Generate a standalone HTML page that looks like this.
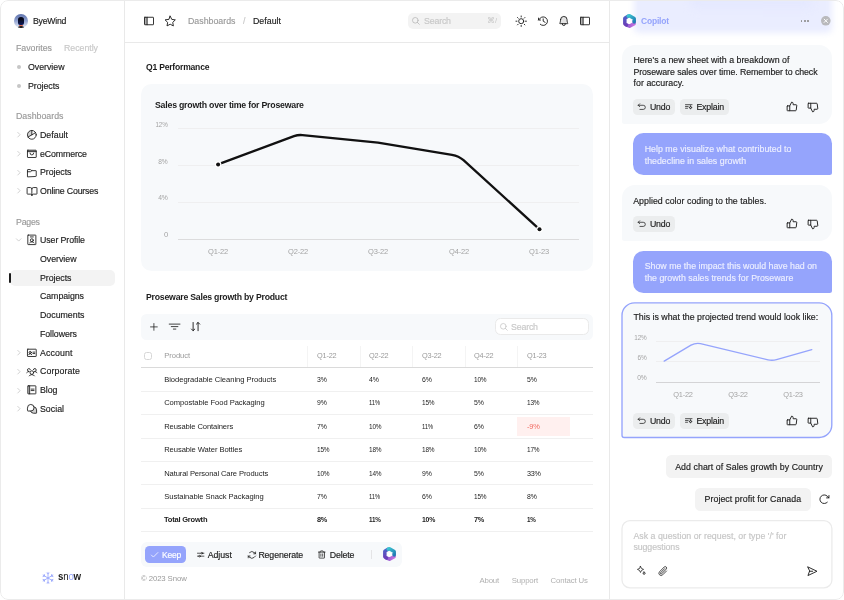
<!DOCTYPE html>
<html lang="en">
<head>
<meta charset="utf-8">
<title>ByeWind Dashboard - Copilot</title>
<style>
*{box-sizing:border-box;margin:0;padding:0}
html,body{width:844px;height:600px;overflow:hidden;background:#fff}
body{font-family:"Liberation Sans",Arial,sans-serif;font-size:8.8px;color:#1c1c1c;position:relative}
.frame{position:absolute;left:0;top:0;width:844px;height:600px;border-radius:8px;overflow:hidden;background:transparent;will-change:transform}
.abs{position:absolute}
.t{position:absolute;white-space:nowrap;line-height:12px;height:12px;margin-top:-6px}
.k{-webkit-text-stroke:.16px currentColor}
svg{position:absolute;overflow:visible}
.ic{fill:none;stroke-linecap:round;stroke-linejoin:round}
</style>
</head>
<body>
<div class="frame">
<!-- sidebar -->
<div class="abs" style="left:123.5px;top:0px;width:1.00px;height:600.00px;background:#e9e9e9"></div>
<div class="abs" style="left:14px;top:14px;width:14px;height:14px;border-radius:50%;background:linear-gradient(180deg,#5f73ad 0%,#8b9dcd 45%,#e4eaf7 95%);overflow:hidden">
<div class="abs" style="left:4.3px;top:3.2px;width:5.6px;height:8.2px;border-radius:2.8px 2.8px 2px 2px;background:linear-gradient(180deg,#070a1c 30%,#0c1a5e 100%)"></div>
<div class="abs" style="left:3px;top:11.8px;width:8.2px;height:4px;border-radius:4px 4px 0 0;background:#120d0d"></div>
<div class="abs" style="left:5.4px;top:10.9px;width:3.4px;height:1.3px;border-radius:.6px;background:#e06a4c"></div></div>
<div class="t k" style="letter-spacing:-0.220px;top:21px;font-size:8.8px;color:#1c1c1c;left:33px;transform:scaleX(0.986);transform-origin:0 50%;">ByeWind</div>
<div class="t k" style="letter-spacing:-0.023px;top:48px;font-size:8.8px;color:#9a9a9a;left:16px;transform:scaleX(1.000);transform-origin:0 50%;">Favorites</div>
<div class="t k" style="letter-spacing:-0.033px;top:48px;font-size:8.8px;color:#c8c8c8;left:64px;transform:scaleX(1.000);transform-origin:0 50%;">Recently</div>
<div class="abs" style="left:17px;top:65px;width:4.00px;height:4.00px;border-radius:50%;background:#c6c6c6"></div>
<div class="t k" style="letter-spacing:-0.025px;top:67px;font-size:8.8px;color:#1c1c1c;left:28px;transform:scaleX(1.000);transform-origin:0 50%;">Overview</div>
<div class="abs" style="left:17px;top:83.6px;width:4.00px;height:4.00px;border-radius:50%;background:#c6c6c6"></div>
<div class="t k" style="letter-spacing:-0.040px;top:85.6px;font-size:8.8px;color:#1c1c1c;left:28px;transform:scaleX(1.000);transform-origin:0 50%;">Projects</div>
<div class="t k" style="letter-spacing:0.007px;top:116px;font-size:8.8px;color:#9a9a9a;left:16px;transform:scaleX(1.000);transform-origin:0 50%;">Dashboards</div>
<svg class="ic" viewBox="0 0 256 256" style="left:14.80px;top:131.30px;width:7.4px;height:7.4px;stroke:#bcbcbc;stroke-width:24;"><polyline points="96 48 176 128 96 208"/></svg>
<svg class="ic" viewBox="0 0 256 256" style="left:25.75px;top:129.15px;width:11.7px;height:11.7px;stroke:#1c1c1c;stroke-width:19;"><path d="M128,128V32A96,96,0,0,0,44.9,176Z" fill="#1c1c1c" fill-opacity=".2" stroke="none"/><circle cx="128" cy="128" r="96"/><line x1="128" y1="128" x2="128" y2="32"/><line x1="211.1" y1="80" x2="44.9" y2="176"/></svg>
<div class="t k" style="letter-spacing:0.021px;top:135px;font-size:8.8px;color:#1c1c1c;left:40px;transform:scaleX(1.000);transform-origin:0 50%;">Default</div>
<svg class="ic" viewBox="0 0 256 256" style="left:14.80px;top:150.00px;width:7.4px;height:7.4px;stroke:#bcbcbc;stroke-width:24;"><polyline points="96 48 176 128 96 208"/></svg>
<svg class="ic" viewBox="0 0 256 256" style="left:25.75px;top:147.85px;width:11.7px;height:11.7px;stroke:#1c1c1c;stroke-width:19;"><rect x="32" y="48" width="192" height="32" fill="#1c1c1c" fill-opacity=".3" stroke="none"/><rect x="32" y="48" width="192" height="160" rx="8"/><line x1="32" y1="80" x2="224" y2="80"/><path d="M168,112a40,40,0,0,1-80,0"/></svg>
<div class="t k" style="letter-spacing:-0.113px;top:153.7px;font-size:8.8px;color:#1c1c1c;left:40px;transform:scaleX(1.000);transform-origin:0 50%;">eCommerce</div>
<svg class="ic" viewBox="0 0 256 256" style="left:14.80px;top:168.70px;width:7.4px;height:7.4px;stroke:#bcbcbc;stroke-width:24;"><polyline points="96 48 176 128 96 208"/></svg>
<svg class="ic" viewBox="0 0 256 256" style="left:25.75px;top:166.55px;width:11.7px;height:11.7px;stroke:#1c1c1c;stroke-width:19;"><path d="M32,208V64a8,8,0,0,1,8-8H93.3a8,8,0,0,1,4.8,1.6L128,80h88a8,8,0,0,1,8,8V200a8,8,0,0,1-8,8Z"/><path d="M32,104H93.3a8,8,0,0,0,4.8-1.6L128,80"/></svg>
<div class="t k" style="letter-spacing:-0.040px;top:172.4px;font-size:8.8px;color:#1c1c1c;left:40px;transform:scaleX(1.000);transform-origin:0 50%;">Projects</div>
<svg class="ic" viewBox="0 0 256 256" style="left:14.80px;top:187.40px;width:7.4px;height:7.4px;stroke:#bcbcbc;stroke-width:24;"><polyline points="96 48 176 128 96 208"/></svg>
<svg class="ic" viewBox="0 0 256 256" style="left:25.75px;top:185.25px;width:11.7px;height:11.7px;stroke:#1c1c1c;stroke-width:19;"><path d="M128,88a32,32,0,0,1,32-32h72a8,8,0,0,1,8,8V192a8,8,0,0,1-8,8H160a32,32,0,0,0-32,32"/><path d="M24,192a8,8,0,0,0,8,8H96a32,32,0,0,1,32,32V88A32,32,0,0,0,96,56H32a8,8,0,0,0-8,8Z"/></svg>
<div class="t k" style="letter-spacing:-0.165px;top:191.1px;font-size:8.8px;color:#1c1c1c;left:40px;transform:scaleX(1.000);transform-origin:0 50%;">Online Courses</div>
<div class="t k" style="letter-spacing:-0.220px;top:221.5px;font-size:8.8px;color:#9a9a9a;left:16px;transform:scaleX(0.997);transform-origin:0 50%;">Pages</div>
<svg class="ic" viewBox="0 0 256 256" style="left:14.80px;top:236.30px;width:7.4px;height:7.4px;stroke:#bcbcbc;stroke-width:24;"><polyline points="208 96 128 176 48 96"/></svg>
<svg class="ic" viewBox="0 0 256 256" style="left:25.75px;top:234.15px;width:11.7px;height:11.7px;stroke:#1c1c1c;stroke-width:19;"><rect x="40" y="24" width="176" height="208" rx="8"/><circle cx="128" cy="136" r="32"/><path d="M80,192a60,60,0,0,1,96,0"/><line x1="96" y1="64" x2="160" y2="64"/></svg>
<div class="t k" style="letter-spacing:-0.087px;top:240px;font-size:8.8px;color:#1c1c1c;left:40px;transform:scaleX(1.000);transform-origin:0 50%;">User Profile</div>
<div class="abs" style="left:10.2px;top:269.7px;width:104.80px;height:16.30px;border-radius:5px;background:#f3f3f3"></div>
<div class="abs" style="left:9.2px;top:272.8px;width:2.30px;height:9.80px;border-radius:1.2px;background:#1c1c1c"></div>
<div class="t k" style="letter-spacing:-0.025px;top:258.8px;font-size:8.8px;color:#1c1c1c;left:40px;transform:scaleX(1.000);transform-origin:0 50%;">Overview</div>
<div class="t k" style="letter-spacing:-0.040px;top:277.8px;font-size:8.8px;color:#1c1c1c;left:40px;transform:scaleX(1.000);transform-origin:0 50%;">Projects</div>
<div class="t k" style="letter-spacing:-0.062px;top:296.4px;font-size:8.8px;color:#1c1c1c;left:40px;transform:scaleX(1.000);transform-origin:0 50%;">Campaigns</div>
<div class="t k" style="letter-spacing:0.000px;top:315.2px;font-size:8.8px;color:#1c1c1c;left:40px;transform:scaleX(1.000);transform-origin:0 50%;">Documents</div>
<div class="t k" style="letter-spacing:-0.080px;top:334px;font-size:8.8px;color:#1c1c1c;left:40px;transform:scaleX(1.000);transform-origin:0 50%;">Followers</div>
<svg class="ic" viewBox="0 0 256 256" style="left:14.80px;top:349.10px;width:7.4px;height:7.4px;stroke:#bcbcbc;stroke-width:24;"><polyline points="96 48 176 128 96 208"/></svg>
<svg class="ic" viewBox="0 0 256 256" style="left:25.75px;top:346.95px;width:11.7px;height:11.7px;stroke:#1c1c1c;stroke-width:19;"><rect x="32" y="48" width="192" height="160" rx="8"/><line x1="152" y1="112" x2="192" y2="112"/><line x1="152" y1="144" x2="192" y2="144"/><circle cx="92" cy="120" r="24"/><path d="M61,168a32,32,0,0,1,62,0"/></svg>
<div class="t k" style="letter-spacing:0.117px;top:352.8px;font-size:8.8px;color:#1c1c1c;left:40px;transform:scaleX(1.000);transform-origin:0 50%;">Account</div>
<svg class="ic" viewBox="0 0 256 256" style="left:14.80px;top:367.70px;width:7.4px;height:7.4px;stroke:#bcbcbc;stroke-width:24;"><polyline points="96 48 176 128 96 208"/></svg>
<svg class="ic" viewBox="0 0 256 256" style="left:25.75px;top:365.55px;width:11.7px;height:11.7px;stroke:#1c1c1c;stroke-width:19;"><circle cx="128" cy="144" r="40"/><path d="M72,216a65,65,0,0,1,112,0"/><path d="M192,120a59.9,59.9,0,0,1,48,24"/><path d="M16,144a59.9,59.9,0,0,1,48-24"/><path d="M161,80a32,32,0,1,1,31,40"/><path d="M64,120A32,32,0,1,1,95,80"/></svg>
<div class="t k" style="letter-spacing:0.109px;top:371.4px;font-size:8.8px;color:#1c1c1c;left:40px;transform:scaleX(1.000);transform-origin:0 50%;">Corporate</div>
<svg class="ic" viewBox="0 0 256 256" style="left:14.80px;top:386.50px;width:7.4px;height:7.4px;stroke:#bcbcbc;stroke-width:24;"><polyline points="96 48 176 128 96 208"/></svg>
<svg class="ic" viewBox="0 0 256 256" style="left:25.75px;top:384.35px;width:11.7px;height:11.7px;stroke:#1c1c1c;stroke-width:19;"><rect x="40" y="40" width="40" height="176" fill="#1c1c1c" fill-opacity=".25" stroke="none"/><rect x="40" y="40" width="176" height="176" rx="8"/><line x1="80" y1="40" x2="80" y2="216"/><line x1="112" y1="112" x2="176" y2="112"/><line x1="112" y1="144" x2="176" y2="144"/></svg>
<div class="t k" style="letter-spacing:-0.036px;top:390.2px;font-size:8.8px;color:#1c1c1c;left:40px;transform:scaleX(1.000);transform-origin:0 50%;">Blog</div>
<svg class="ic" viewBox="0 0 256 256" style="left:14.80px;top:405.30px;width:7.4px;height:7.4px;stroke:#bcbcbc;stroke-width:24;"><polyline points="96 48 176 128 96 208"/></svg>
<svg class="ic" viewBox="0 0 256 256" style="left:25.75px;top:403.15px;width:11.7px;height:11.7px;stroke:#1c1c1c;stroke-width:19;"><path d="M98,176a72,72,0,0,0,68,48h58a8,8,0,0,0,8-8V152a72,72,0,0,0-58-70.6A72,72,0,0,1,104,176Z" fill="#1c1c1c" fill-opacity=".2" stroke="none"/><path d="M32,104a72,72,0,1,1,72,72H40a8,8,0,0,1-8-8Z"/><path d="M98,176a72,72,0,0,0,68,48h58a8,8,0,0,0,8-8V152a72,72,0,0,0-58-70.6"/></svg>
<div class="t k" style="letter-spacing:0.006px;top:409px;font-size:8.8px;color:#1c1c1c;left:40px;transform:scaleX(1.000);transform-origin:0 50%;">Social</div>
<svg viewBox="-10 -10 20 20" style="left:42.4px;top:571.6px;width:12px;height:12px;stroke:#95a4fc;stroke-width:1.3;fill:none;stroke-linecap:round;stroke-linejoin:round"><g transform="rotate(0)"><line x1="0" y1="-9.4" x2="0" y2="9.4"/><polyline points="-2,-8.4 0,-6.4 2,-8.4"/><polyline points="-2,8.4 0,6.4 2,8.4"/></g><g transform="rotate(60)"><line x1="0" y1="-9.4" x2="0" y2="9.4"/><polyline points="-2,-8.4 0,-6.4 2,-8.4"/><polyline points="-2,8.4 0,6.4 2,8.4"/></g><g transform="rotate(120)"><line x1="0" y1="-9.4" x2="0" y2="9.4"/><polyline points="-2,-8.4 0,-6.4 2,-8.4"/><polyline points="-2,8.4 0,6.4 2,8.4"/></g></svg>
<div class="t" style="letter-spacing:-0.220px;top:577.3px;font-size:10.2px;color:#1c1c1c;left:57.6px;font-weight:bold;transform:scaleX(0.955);transform-origin:0 50%;">s<span style="font-weight:normal">n<span style="color:#95a4fc">o</span></span>w</div>
<!-- top bar -->
<div class="abs" style="left:124.5px;top:41.5px;width:484.90px;height:1.00px;background:#e9e9e9"></div>
<svg class="ic" viewBox="0 0 256 256" style="left:143.00px;top:15.00px;width:12px;height:12px;stroke:#1c1c1c;stroke-width:19;"><rect x="32" y="48" width="56" height="160" fill="#1c1c1c" fill-opacity=".35" stroke="none"/><rect x="32" y="48" width="192" height="160" rx="8"/><line x1="88" y1="48" x2="88" y2="208"/></svg>
<svg class="ic" viewBox="0 0 256 256" style="left:163.80px;top:14.80px;width:12.4px;height:12.4px;stroke:#1c1c1c;stroke-width:19;"><path d="M128,24l32.6,66.5,73.4,10.2-53.3,51.6,12.9,72.9L128,190.5,62.4,225.2l12.9-72.9L22,100.7l73.4-10.2Z"/></svg>
<div class="t k" style="letter-spacing:0.007px;top:21px;font-size:8.8px;color:#9a9a9a;left:188px;transform:scaleX(1.000);transform-origin:0 50%;">Dashboards</div>
<div class="t k" style="top:21px;font-size:8.8px;color:#c8c8c8;left:243px;">/</div>
<div class="t k" style="letter-spacing:0.021px;top:21px;font-size:8.8px;color:#1c1c1c;left:253px;transform:scaleX(1.000);transform-origin:0 50%;">Default</div>
<div class="abs" style="left:408.2px;top:12.8px;width:93.00px;height:16.00px;border-radius:5px;background:#f3f3f3"></div>
<svg class="ic" viewBox="0 0 256 256" style="left:411.25px;top:16.45px;width:9.5px;height:9.5px;stroke:#b4b4b4;stroke-width:20;"><circle cx="116" cy="116" r="76"/><line x1="170" y1="170" x2="224" y2="224"/></svg>
<div class="t k" style="letter-spacing:-0.175px;top:21.2px;font-size:8.8px;color:#c8c8c8;left:424px;transform:scaleX(1.000);transform-origin:0 50%;">Search</div>
<div class="t" style="top:21.2px;font-size:7.5px;color:#c8c8c8;left:487px;">⌘/</div>
<svg class="ic" viewBox="0 0 256 256" style="left:515.30px;top:14.80px;width:12.4px;height:12.4px;stroke:#1c1c1c;stroke-width:19;"><circle cx="128" cy="128" r="52"/><line x1="128" y1="40" x2="128" y2="20"/><line x1="128" y1="236" x2="128" y2="216"/><line x1="40" y1="128" x2="20" y2="128"/><line x1="236" y1="128" x2="216" y2="128"/><line x1="65.8" y1="65.8" x2="51.6" y2="51.6"/><line x1="190.2" y1="65.8" x2="204.4" y2="51.6"/><line x1="65.8" y1="190.2" x2="51.6" y2="204.4"/><line x1="190.2" y1="190.2" x2="204.4" y2="204.4"/></svg>
<svg class="ic" viewBox="0 0 256 256" style="left:536.60px;top:14.80px;width:12.4px;height:12.4px;stroke:#1c1c1c;stroke-width:19;"><polyline points="128 80 128 128 168 152"/><polyline points="72 104 32 104 32 64"/><path d="M67.6,192A88,88,0,1,0,65.8,65.8L32,104"/></svg>
<svg class="ic" viewBox="0 0 256 256" style="left:558.00px;top:15.40px;width:11.6px;height:11.6px;stroke:#1c1c1c;stroke-width:20;"><path d="M56,104a72,72,0,0,1,144,0c0,35.8,8.3,64.6,14.9,76A8,8,0,0,1,208,192H48a8,8,0,0,1-6.9-12C47.7,168.6,56,139.8,56,104Z" fill="#1c1c1c" fill-opacity=".12"/><path d="M96,192v8a32,32,0,0,0,64,0v-8"/></svg>
<svg class="ic" viewBox="0 0 256 256" style="left:579.20px;top:15.00px;width:12px;height:12px;stroke:#1c1c1c;stroke-width:19;"><rect x="32" y="48" width="56" height="160" fill="#1c1c1c" fill-opacity=".35" stroke="none"/><rect x="32" y="48" width="192" height="160" rx="8"/><line x1="88" y1="48" x2="88" y2="208"/></svg>
<!-- main -->
<div class="t" style="letter-spacing:-0.220px;top:66.5px;font-size:8.8px;color:#1c1c1c;left:146px;font-weight:bold;transform:scaleX(0.975);transform-origin:0 50%;">Q1 Performance</div>
<div class="abs" style="left:141px;top:84.3px;width:452.30px;height:186.70px;border-radius:10.5px;background:#f7f9fb"></div>
<div class="t" style="letter-spacing:-0.220px;top:104.5px;font-size:8.8px;color:#1c1c1c;left:155px;font-weight:bold;transform:scaleX(0.995);transform-origin:0 50%;">Sales growth over time for Proseware</div>
<div class="t" style="letter-spacing:-0.220px;top:124.6px;font-size:7.6px;color:#a4a4a4;right:676px;transform:scaleX(0.826);transform-origin:100% 50%;">12%</div>
<div class="t" style="letter-spacing:-0.220px;top:161.7px;font-size:7.6px;color:#a4a4a4;right:676px;transform:scaleX(0.873);transform-origin:100% 50%;">8%</div>
<div class="t" style="letter-spacing:-0.220px;top:198.4px;font-size:7.6px;color:#a4a4a4;right:676px;transform:scaleX(0.892);transform-origin:100% 50%;">4%</div>
<div class="t" style="letter-spacing:0.000px;top:235.1px;font-size:7.6px;color:#a4a4a4;right:676px;transform:scaleX(1.015);transform-origin:100% 50%;">0</div>
<div class="abs" style="left:177.5px;top:128px;width:401.50px;height:1.00px;background:#efeff0"></div>
<div class="abs" style="left:177.5px;top:165px;width:401.50px;height:1.00px;background:#efeff0"></div>
<div class="abs" style="left:177.5px;top:202px;width:401.50px;height:1.00px;background:#efeff0"></div>
<div class="abs" style="left:177.5px;top:239.3px;width:401.50px;height:1.00px;background:#dcdcdd"></div>
<div class="t" style="letter-spacing:-0.220px;top:252.3px;font-size:7.6px;color:#a4a4a4;left:217.5px;transform:translateX(-50%) scaleX(0.989);">Q1-22</div>
<div class="t" style="letter-spacing:-0.220px;top:252.3px;font-size:7.6px;color:#a4a4a4;left:298px;transform:translateX(-50%) scaleX(0.989);">Q2-22</div>
<div class="t" style="letter-spacing:-0.220px;top:252.3px;font-size:7.6px;color:#a4a4a4;left:378px;transform:translateX(-50%) scaleX(0.989);">Q3-22</div>
<div class="t" style="letter-spacing:-0.220px;top:252.3px;font-size:7.6px;color:#a4a4a4;left:458.5px;transform:translateX(-50%) scaleX(0.989);">Q4-22</div>
<div class="t" style="letter-spacing:-0.220px;top:252.3px;font-size:7.6px;color:#a4a4a4;left:539px;transform:translateX(-50%) scaleX(0.989);">Q1-23</div>
<svg viewBox="0 0 844 600" style="left:0;top:0;width:844px;height:600px;pointer-events:none">
<path d="M218 164.4 L294 136.2 Q298.3 134.6 302.5 135.1 L378 142.6 L452 154.8 Q458.8 155.9 463.5 160.2 L539.5 229.3" fill="none" stroke="#111" stroke-width="2.35" stroke-linejoin="round" stroke-linecap="round"/>
<circle cx="218.1" cy="164.5" r="3.3" fill="#fff"/><circle cx="218.1" cy="164.5" r="2" fill="#111"/>
<circle cx="539.5" cy="229.3" r="3.3" fill="#fff"/><circle cx="539.5" cy="229.3" r="2" fill="#111"/>
</svg>
<div class="t" style="letter-spacing:-0.220px;top:296.8px;font-size:8.8px;color:#1c1c1c;left:146px;font-weight:bold;transform:scaleX(0.989);transform-origin:0 50%;">Proseware Sales growth by Product</div>
<div class="abs" style="left:141px;top:314px;width:452.30px;height:26.00px;border-radius:5.5px;background:#f7f9fb"></div>
<svg class="ic" viewBox="0 0 256 256" style="left:148.50px;top:322.10px;width:9.8px;height:9.8px;stroke:#1c1c1c;stroke-width:20;"><line x1="40" y1="128" x2="216" y2="128"/><line x1="128" y1="40" x2="128" y2="216"/></svg>
<svg class="ic" viewBox="0 0 256 256" style="left:167.80px;top:320.40px;width:13.2px;height:13.2px;stroke:#1c1c1c;stroke-width:16;"><line x1="64" y1="128" x2="192" y2="128"/><line x1="24" y1="80" x2="232" y2="80"/><line x1="104" y1="176" x2="152" y2="176"/></svg>
<svg class="ic" viewBox="0 0 256 256" style="left:189.10px;top:320.40px;width:13.2px;height:13.2px;stroke:#1c1c1c;stroke-width:18;"><polyline points="112 176 80 208 48 176"/><line x1="80" y1="48" x2="80" y2="208"/><polyline points="144 80 176 48 208 80"/><line x1="176" y1="208" x2="176" y2="48"/></svg>
<div class="abs" style="left:494.6px;top:318.4px;width:94.20px;height:16.90px;border-radius:5.5px;background:#fff;border:1px solid #eaeaea"></div>
<svg class="ic" viewBox="0 0 256 256" style="left:498.75px;top:322.25px;width:9.5px;height:9.5px;stroke:#c4c4c4;stroke-width:20;"><circle cx="116" cy="116" r="76"/><line x1="170" y1="170" x2="224" y2="224"/></svg>
<div class="t k" style="letter-spacing:-0.175px;top:327px;font-size:8.8px;color:#c8c8c8;left:511px;transform:scaleX(1.000);transform-origin:0 50%;">Search</div>
<div class="abs" style="left:143.7px;top:352.2px;width:8.00px;height:8.00px;border-radius:2.5px;border:1px solid #d6d6d6;background:#fff"></div>
<div class="t" style="letter-spacing:-0.029px;top:356.2px;font-size:7.6px;color:#9a9a9a;left:164.2px;transform:scaleX(1.000);transform-origin:0 50%;">Product</div>
<div class="t" style="letter-spacing:-0.220px;top:356.2px;font-size:7.6px;color:#9a9a9a;left:316.6px;transform:scaleX(0.969);transform-origin:0 50%;">Q1-22</div>
<div class="t" style="letter-spacing:-0.220px;top:356.2px;font-size:7.6px;color:#9a9a9a;left:369px;transform:scaleX(0.969);transform-origin:0 50%;">Q2-22</div>
<div class="t" style="letter-spacing:-0.220px;top:356.2px;font-size:7.6px;color:#9a9a9a;left:421.6px;transform:scaleX(0.969);transform-origin:0 50%;">Q3-22</div>
<div class="t" style="letter-spacing:-0.220px;top:356.2px;font-size:7.6px;color:#9a9a9a;left:474px;transform:scaleX(0.969);transform-origin:0 50%;">Q4-22</div>
<div class="t" style="letter-spacing:-0.220px;top:356.2px;font-size:7.6px;color:#9a9a9a;left:526.5px;transform:scaleX(0.969);transform-origin:0 50%;">Q1-23</div>
<div class="abs" style="left:307.3px;top:345.5px;width:1.00px;height:21.50px;background:#f4f4f4"></div>
<div class="abs" style="left:359.7px;top:345.5px;width:1.00px;height:21.50px;background:#f4f4f4"></div>
<div class="abs" style="left:412.2px;top:345.5px;width:1.00px;height:21.50px;background:#f4f4f4"></div>
<div class="abs" style="left:464.6px;top:345.5px;width:1.00px;height:21.50px;background:#f4f4f4"></div>
<div class="abs" style="left:517px;top:345.5px;width:1.00px;height:21.50px;background:#f4f4f4"></div>
<div class="abs" style="left:141px;top:367px;width:452.00px;height:1.00px;background:#dadada"></div>
<div class="t" style="letter-spacing:-0.038px;top:379.7px;font-size:7.6px;color:#1c1c1c;left:164.2px;transform:scaleX(1.000);transform-origin:0 50%;">Biodegradable Cleaning Products</div>
<div class="t" style="letter-spacing:-0.220px;top:379.7px;font-size:7.6px;color:#1c1c1c;left:316.6px;transform:scaleX(0.910);transform-origin:0 50%;">3%</div>
<div class="t" style="letter-spacing:-0.220px;top:379.7px;font-size:7.6px;color:#1c1c1c;left:369px;transform:scaleX(0.910);transform-origin:0 50%;">4%</div>
<div class="t" style="letter-spacing:-0.220px;top:379.7px;font-size:7.6px;color:#1c1c1c;left:421.6px;transform:scaleX(0.910);transform-origin:0 50%;">6%</div>
<div class="t" style="letter-spacing:-0.220px;top:379.7px;font-size:7.6px;color:#1c1c1c;left:474px;transform:scaleX(0.853);transform-origin:0 50%;">10%</div>
<div class="t" style="letter-spacing:-0.220px;top:379.7px;font-size:7.6px;color:#1c1c1c;left:526.5px;transform:scaleX(0.910);transform-origin:0 50%;">5%</div>
<div class="abs" style="left:141px;top:390.59999999999997px;width:452.00px;height:1.00px;background:#f0f0f0"></div>
<div class="t" style="letter-spacing:-0.049px;top:403.15999999999997px;font-size:7.6px;color:#1c1c1c;left:164.2px;transform:scaleX(1.000);transform-origin:0 50%;">Compostable Food Packaging</div>
<div class="t" style="letter-spacing:-0.220px;top:403.15999999999997px;font-size:7.6px;color:#1c1c1c;left:316.6px;transform:scaleX(0.910);transform-origin:0 50%;">9%</div>
<div class="t" style="letter-spacing:-0.220px;top:403.15999999999997px;font-size:7.6px;color:#1c1c1c;left:369px;transform:scaleX(0.789);transform-origin:0 50%;">11%</div>
<div class="t" style="letter-spacing:-0.220px;top:403.15999999999997px;font-size:7.6px;color:#1c1c1c;left:421.6px;transform:scaleX(0.853);transform-origin:0 50%;">15%</div>
<div class="t" style="letter-spacing:-0.220px;top:403.15999999999997px;font-size:7.6px;color:#1c1c1c;left:474px;transform:scaleX(0.910);transform-origin:0 50%;">5%</div>
<div class="t" style="letter-spacing:-0.220px;top:403.15999999999997px;font-size:7.6px;color:#1c1c1c;left:526.5px;transform:scaleX(0.853);transform-origin:0 50%;">13%</div>
<div class="abs" style="left:141px;top:414.05999999999995px;width:452.00px;height:1.00px;background:#f0f0f0"></div>
<div class="abs" style="left:517.3px;top:417.2px;width:52.30px;height:19.00px;background:#fff0ef"></div>
<div class="t" style="letter-spacing:-0.107px;top:426.62px;font-size:7.6px;color:#1c1c1c;left:164.2px;transform:scaleX(1.000);transform-origin:0 50%;">Reusable Containers</div>
<div class="t" style="letter-spacing:-0.220px;top:426.62px;font-size:7.6px;color:#1c1c1c;left:316.6px;transform:scaleX(0.910);transform-origin:0 50%;">7%</div>
<div class="t" style="letter-spacing:-0.220px;top:426.62px;font-size:7.6px;color:#1c1c1c;left:369px;transform:scaleX(0.853);transform-origin:0 50%;">10%</div>
<div class="t" style="letter-spacing:-0.220px;top:426.62px;font-size:7.6px;color:#1c1c1c;left:421.6px;transform:scaleX(0.789);transform-origin:0 50%;">11%</div>
<div class="t" style="letter-spacing:-0.220px;top:426.62px;font-size:7.6px;color:#1c1c1c;left:474px;transform:scaleX(0.910);transform-origin:0 50%;">6%</div>
<div class="t" style="letter-spacing:-0.220px;top:426.62px;font-size:7.6px;color:#f26a62;left:526.5px;transform:scaleX(0.979);transform-origin:0 50%;">-9%</div>
<div class="abs" style="left:141px;top:437.52px;width:452.00px;height:1.00px;background:#f0f0f0"></div>
<div class="t" style="letter-spacing:-0.071px;top:450.08px;font-size:7.6px;color:#1c1c1c;left:164.2px;transform:scaleX(1.000);transform-origin:0 50%;">Reusable Water Bottles</div>
<div class="t" style="letter-spacing:-0.220px;top:450.08px;font-size:7.6px;color:#1c1c1c;left:316.6px;transform:scaleX(0.853);transform-origin:0 50%;">15%</div>
<div class="t" style="letter-spacing:-0.220px;top:450.08px;font-size:7.6px;color:#1c1c1c;left:369px;transform:scaleX(0.853);transform-origin:0 50%;">18%</div>
<div class="t" style="letter-spacing:-0.220px;top:450.08px;font-size:7.6px;color:#1c1c1c;left:421.6px;transform:scaleX(0.853);transform-origin:0 50%;">18%</div>
<div class="t" style="letter-spacing:-0.220px;top:450.08px;font-size:7.6px;color:#1c1c1c;left:474px;transform:scaleX(0.853);transform-origin:0 50%;">10%</div>
<div class="t" style="letter-spacing:-0.220px;top:450.08px;font-size:7.6px;color:#1c1c1c;left:526.5px;transform:scaleX(0.853);transform-origin:0 50%;">17%</div>
<div class="abs" style="left:141px;top:460.97999999999996px;width:452.00px;height:1.00px;background:#f0f0f0"></div>
<div class="t" style="letter-spacing:-0.111px;top:473.53999999999996px;font-size:7.6px;color:#1c1c1c;left:164.2px;transform:scaleX(1.000);transform-origin:0 50%;">Natural Personal Care Products</div>
<div class="t" style="letter-spacing:-0.220px;top:473.53999999999996px;font-size:7.6px;color:#1c1c1c;left:316.6px;transform:scaleX(0.853);transform-origin:0 50%;">10%</div>
<div class="t" style="letter-spacing:-0.220px;top:473.53999999999996px;font-size:7.6px;color:#1c1c1c;left:369px;transform:scaleX(0.853);transform-origin:0 50%;">14%</div>
<div class="t" style="letter-spacing:-0.220px;top:473.53999999999996px;font-size:7.6px;color:#1c1c1c;left:421.6px;transform:scaleX(0.910);transform-origin:0 50%;">9%</div>
<div class="t" style="letter-spacing:-0.220px;top:473.53999999999996px;font-size:7.6px;color:#1c1c1c;left:474px;transform:scaleX(0.910);transform-origin:0 50%;">5%</div>
<div class="t" style="letter-spacing:-0.220px;top:473.53999999999996px;font-size:7.6px;color:#1c1c1c;left:526.5px;transform:scaleX(0.948);transform-origin:0 50%;">33%</div>
<div class="abs" style="left:141px;top:484.43999999999994px;width:452.00px;height:1.00px;background:#f0f0f0"></div>
<div class="t" style="letter-spacing:-0.038px;top:497.0px;font-size:7.6px;color:#1c1c1c;left:164.2px;transform:scaleX(1.000);transform-origin:0 50%;">Sustainable Snack Packaging</div>
<div class="t" style="letter-spacing:-0.220px;top:497.0px;font-size:7.6px;color:#1c1c1c;left:316.6px;transform:scaleX(0.910);transform-origin:0 50%;">7%</div>
<div class="t" style="letter-spacing:-0.220px;top:497.0px;font-size:7.6px;color:#1c1c1c;left:369px;transform:scaleX(0.789);transform-origin:0 50%;">11%</div>
<div class="t" style="letter-spacing:-0.220px;top:497.0px;font-size:7.6px;color:#1c1c1c;left:421.6px;transform:scaleX(0.910);transform-origin:0 50%;">6%</div>
<div class="t" style="letter-spacing:-0.220px;top:497.0px;font-size:7.6px;color:#1c1c1c;left:474px;transform:scaleX(0.853);transform-origin:0 50%;">15%</div>
<div class="t" style="letter-spacing:-0.220px;top:497.0px;font-size:7.6px;color:#1c1c1c;left:526.5px;transform:scaleX(0.910);transform-origin:0 50%;">8%</div>
<div class="abs" style="left:141px;top:507.9px;width:452.00px;height:1.00px;background:#f0f0f0"></div>
<div class="t" style="letter-spacing:-0.220px;top:520.46px;font-size:7.6px;color:#1c1c1c;left:164.2px;font-weight:bold;transform:scaleX(0.992);transform-origin:0 50%;">Total Growth</div>
<div class="t" style="letter-spacing:-0.220px;top:520.46px;font-size:7.6px;color:#1c1c1c;left:316.6px;font-weight:bold;transform:scaleX(0.965);transform-origin:0 50%;">8%</div>
<div class="t" style="letter-spacing:-0.220px;top:520.46px;font-size:7.6px;color:#1c1c1c;left:369px;font-weight:bold;transform:scaleX(0.828);transform-origin:0 50%;">11%</div>
<div class="t" style="letter-spacing:-0.220px;top:520.46px;font-size:7.6px;color:#1c1c1c;left:421.6px;font-weight:bold;transform:scaleX(0.905);transform-origin:0 50%;">10%</div>
<div class="t" style="letter-spacing:-0.220px;top:520.46px;font-size:7.6px;color:#1c1c1c;left:474px;font-weight:bold;transform:scaleX(0.965);transform-origin:0 50%;">7%</div>
<div class="t" style="letter-spacing:-0.220px;top:520.46px;font-size:7.6px;color:#1c1c1c;left:526.5px;font-weight:bold;transform:scaleX(0.827);transform-origin:0 50%;">1%</div>
<div class="abs" style="left:141px;top:531.36px;width:452.00px;height:1.00px;background:#f0f0f0"></div>
<div class="abs" style="left:141px;top:541.5px;width:260.80px;height:25.50px;border-radius:6px;background:#f7f9fb"></div>
<div class="abs" style="left:145.3px;top:546px;width:41.00px;height:16.60px;border-radius:4.5px;background:#95a4fc"></div>
<svg class="ic" viewBox="0 0 256 256" style="left:150.30px;top:549.80px;width:9px;height:9px;stroke:#f3f4ff;stroke-width:24;"><polyline points="40 144 96 200 224 72"/></svg>
<div class="t k" style="letter-spacing:-0.220px;top:554.6px;font-size:8.8px;color:#fff;left:162px;transform:scaleX(0.965);transform-origin:0 50%;">Keep</div>
<svg class="ic" viewBox="0 0 256 256" style="left:195.70px;top:549.90px;width:9.4px;height:9.4px;stroke:#1c1c1c;stroke-width:20;"><line x1="40" y1="88" x2="136" y2="88"/><line x1="184" y1="88" x2="216" y2="88"/><circle cx="160" cy="88" r="22"/><line x1="40" y1="168" x2="72" y2="168"/><line x1="120" y1="168" x2="216" y2="168"/><circle cx="96" cy="168" r="22"/></svg>
<div class="t k" style="letter-spacing:-0.051px;top:554.6px;font-size:8.8px;color:#1c1c1c;left:207.7px;transform:scaleX(1.000);transform-origin:0 50%;">Adjust</div>
<svg class="ic" viewBox="0 0 256 256" style="left:246.60px;top:549.70px;width:9.8px;height:9.8px;stroke:#1c1c1c;stroke-width:20;"><polyline points="176 100 224 100 224 52"/><path d="M190.2,65.8a88,88,0,0,0-124.4,0"/><polyline points="80 156 32 156 32 204"/><path d="M65.8,190.2a88,88,0,0,0,124.4,0L224,156"/><line x1="190.2" y1="65.8" x2="224" y2="100"/><line x1="32" y1="156" x2="65.8" y2="190.2"/></svg>
<div class="t k" style="letter-spacing:-0.132px;top:554.6px;font-size:8.8px;color:#1c1c1c;left:258.4px;transform:scaleX(1.000);transform-origin:0 50%;">Regenerate</div>
<svg class="ic" viewBox="0 0 256 256" style="left:317.30px;top:549.70px;width:9.6px;height:9.6px;stroke:#1c1c1c;stroke-width:20;"><line x1="216" y1="56" x2="40" y2="56"/><line x1="104" y1="104" x2="104" y2="168"/><line x1="152" y1="104" x2="152" y2="168"/><path d="M200,56V208a8,8,0,0,1-8,8H64a8,8,0,0,1-8-8V56"/><path d="M168,56V40a16,16,0,0,0-16-16H104A16,16,0,0,0,88,40V56"/></svg>
<div class="t k" style="letter-spacing:-0.188px;top:554.6px;font-size:8.8px;color:#1c1c1c;left:329.8px;transform:scaleX(1.000);transform-origin:0 50%;">Delete</div>
<div class="abs" style="left:370.6px;top:549.8px;width:1.00px;height:8.90px;background:#e4e4e6"></div>
<svg viewBox="0 0 100 108" style="left:383.0px;top:547.2px;width:13px;height:14.04px">
<linearGradient id="ca389" x1="0" y1="0" x2="1" y2="1"><stop offset="0" stop-color="#3cc3cf"/><stop offset="1" stop-color="#1f7fb4"/></linearGradient>
<linearGradient id="cb389" x1="0" y1="0" x2="0" y2="1"><stop offset="0" stop-color="#4f62c8"/><stop offset="1" stop-color="#6a3fb8"/></linearGradient>
<linearGradient id="cc389" x1="0" y1="0" x2="1" y2="0"><stop offset="0" stop-color="#8a55cf"/><stop offset="1" stop-color="#c672e0"/></linearGradient>
<g fill="none" stroke-width="27" stroke-linejoin="round" stroke-linecap="round">
<path d="M24 84 L50 94 L86 74 V58" stroke="url(#cc389)"/>
<path d="M38 18 L14 32 V76 L26 84" stroke="url(#cb389)"/>
<path d="M40 17 L50 13 L86 34 V62" stroke="url(#ca389)"/>
</g>
<circle cx="50" cy="55" r="15" fill="#fff"/>
</svg>
<div class="t" style="letter-spacing:-0.114px;top:579.1px;font-size:7.8px;color:#9a9a9a;left:141px;transform:scaleX(1.000);transform-origin:0 50%;">© 2023 Snow</div>
<div class="t" style="letter-spacing:-0.173px;top:580.9px;font-size:7.8px;color:#b0b0b0;left:479.5px;transform:scaleX(1.000);transform-origin:0 50%;">About</div>
<div class="t" style="letter-spacing:-0.169px;top:580.9px;font-size:7.8px;color:#b0b0b0;left:511.8px;transform:scaleX(1.000);transform-origin:0 50%;">Support</div>
<div class="t" style="letter-spacing:-0.131px;top:580.9px;font-size:7.8px;color:#b0b0b0;left:550.6px;transform:scaleX(1.000);transform-origin:0 50%;">Contact Us</div>
<!-- right panel -->
<div class="abs" style="left:609.4px;top:0px;width:1.00px;height:600.00px;background:#e9e9e9"></div>
<div class="abs" style="left:634px;top:-8px;width:198.00px;height:40.50px;background:#eaedff;border-radius:5px;filter:blur(3px)"></div>
<div class="abs" style="left:690px;top:-6px;width:122.00px;height:15.00px;background:#e3e7ff;border-radius:5px;filter:blur(4px);opacity:.7"></div>
<svg viewBox="0 0 100 108" style="left:622.5px;top:14.2px;width:13px;height:14.04px">
<linearGradient id="ca629" x1="0" y1="0" x2="1" y2="1"><stop offset="0" stop-color="#3cc3cf"/><stop offset="1" stop-color="#1f7fb4"/></linearGradient>
<linearGradient id="cb629" x1="0" y1="0" x2="0" y2="1"><stop offset="0" stop-color="#4f62c8"/><stop offset="1" stop-color="#6a3fb8"/></linearGradient>
<linearGradient id="cc629" x1="0" y1="0" x2="1" y2="0"><stop offset="0" stop-color="#8a55cf"/><stop offset="1" stop-color="#c672e0"/></linearGradient>
<g fill="none" stroke-width="27" stroke-linejoin="round" stroke-linecap="round">
<path d="M24 84 L50 94 L86 74 V58" stroke="url(#cc629)"/>
<path d="M38 18 L14 32 V76 L26 84" stroke="url(#cb629)"/>
<path d="M40 17 L50 13 L86 34 V62" stroke="url(#ca629)"/>
</g>
<circle cx="50" cy="55" r="15" fill="#fff"/>
</svg>
<div class="t" style="letter-spacing:-0.220px;top:21px;font-size:8.8px;color:#95a4fc;left:641px;font-weight:bold;transform:scaleX(0.966);transform-origin:0 50%;">Copilot</div>
<div class="abs" style="left:800.6px;top:20.2px;width:1.60px;height:1.60px;border-radius:50%;background:#8f8f8f"></div>
<div class="abs" style="left:804.0px;top:20.2px;width:1.60px;height:1.60px;border-radius:50%;background:#8f8f8f"></div>
<div class="abs" style="left:807.4px;top:20.2px;width:1.60px;height:1.60px;border-radius:50%;background:#8f8f8f"></div>
<svg viewBox="0 0 20 20" style="left:820.5px;top:16.2px;width:9.6px;height:9.6px"><circle cx="10" cy="10" r="10" fill="#b9b9bc"/><path d="M6.6 6.6 L13.4 13.4 M13.4 6.6 L6.6 13.4" stroke="#fff" stroke-width="2" stroke-linecap="round"/></svg>
<div class="abs" style="left:621.6px;top:45px;width:210.80px;height:78.80px;border-radius:13px 13px 13px 2.5px;background:#f7f9fb"></div>
<div class="t k" style="letter-spacing:0.008px;top:59.8px;font-size:8.8px;color:#1c1c1c;left:633.4px;transform:scaleX(1.000);transform-origin:0 50%;">Here's a new sheet with a breakdown of</div>
<div class="t k" style="letter-spacing:-0.071px;top:71.6px;font-size:8.8px;color:#1c1c1c;left:633.4px;transform:scaleX(1.000);transform-origin:0 50%;">Proseware sales over time. Remember to check</div>
<div class="t k" style="letter-spacing:0.075px;top:83.4px;font-size:8.8px;color:#1c1c1c;left:633.4px;transform:scaleX(1.000);transform-origin:0 50%;">for accuracy.</div>
<div class="abs" style="left:633px;top:98.60000000000001px;width:42.20px;height:16.10px;border-radius:4.5px;background:#ebedee"></div>
<svg class="ic" viewBox="0 0 256 256" style="left:636.95px;top:101.65px;width:9.5px;height:9.5px;stroke:#1c1c1c;stroke-width:20;"><polyline points="72 128 32 88 72 48"/><path d="M80,200h88a56,56,0,0,0,56-56h0a56,56,0,0,0-56-56H32"/></svg>
<div class="t k" style="letter-spacing:-0.220px;top:106.9px;font-size:8.8px;color:#1c1c1c;left:649.7px;transform:scaleX(0.997);transform-origin:0 50%;">Undo</div>
<div class="abs" style="left:679.9px;top:98.60000000000001px;width:49.50px;height:16.10px;border-radius:4.5px;background:#ebedee"></div>
<svg class="ic" viewBox="0 0 256 256" style="left:683.95px;top:101.65px;width:9.5px;height:9.5px;stroke:#1c1c1c;stroke-width:20;"><line x1="40" y1="72" x2="216" y2="72"/><line x1="40" y1="120" x2="112" y2="120"/><line x1="40" y1="168" x2="96" y2="168"/><path d="M176,104l12,32,32,12-32,12-12,32-12-32-32-12,32-12Z"/></svg>
<div class="t k" style="letter-spacing:-0.177px;top:106.9px;font-size:8.8px;color:#1c1c1c;left:696.4px;transform:scaleX(1.000);transform-origin:0 50%;">Explain</div>
<svg class="ic" viewBox="0 0 256 256" style="left:785.50px;top:100.90px;width:12px;height:12px;stroke:#1c1c1c;stroke-width:20;"><path d="M32,104H80V208H32a8,8,0,0,1-8-8V112A8,8,0,0,1,32,104Z"/><path d="M80,104l40-80a32,32,0,0,1,32,32V80h61.9a16,16,0,0,1,15.9,18l-12,96a16,16,0,0,1-15.9,14H80"/></svg>
<svg class="ic" viewBox="0 0 256 256" style="left:806.80px;top:101.20px;width:12px;height:12px;stroke:#1c1c1c;stroke-width:20;"><path d="M32,48H80V152H32a8,8,0,0,1-8-8V56A8,8,0,0,1,32,48Z"/><path d="M80,152l40,80a32,32,0,0,0,32-32V176h61.9a16,16,0,0,0,15.9-18l-12-96a16,16,0,0,0-15.9-14H80"/></svg>
<div class="abs" style="left:632.7px;top:133.4px;width:199.70px;height:42.00px;border-radius:10.5px 10.5px 2.5px 10.5px;background:#95a4fc"></div>
<div class="t k" style="letter-spacing:0.030px;top:148.7px;font-size:8.8px;color:#eceeff;left:644.7px;transform:scaleX(1.000);transform-origin:0 50%;">Help me visualize what contributed to</div>
<div class="t k" style="letter-spacing:0.011px;top:160.7px;font-size:8.8px;color:#eceeff;left:644.7px;transform:scaleX(1.000);transform-origin:0 50%;">thedecline in sales growth</div>
<div class="abs" style="left:621.6px;top:185px;width:210.80px;height:56.10px;border-radius:13px 13px 13px 2.5px;background:#f7f9fb"></div>
<div class="t k" style="letter-spacing:0.034px;top:200.6px;font-size:8.8px;color:#1c1c1c;left:633.2px;transform:scaleX(1.000);transform-origin:0 50%;">Applied color coding to the tables.</div>
<div class="abs" style="left:633px;top:215.89999999999998px;width:42.20px;height:16.10px;border-radius:4.5px;background:#ebedee"></div>
<svg class="ic" viewBox="0 0 256 256" style="left:636.95px;top:218.95px;width:9.5px;height:9.5px;stroke:#1c1c1c;stroke-width:20;"><polyline points="72 128 32 88 72 48"/><path d="M80,200h88a56,56,0,0,0,56-56h0a56,56,0,0,0-56-56H32"/></svg>
<div class="t k" style="letter-spacing:-0.220px;top:224.2px;font-size:8.8px;color:#1c1c1c;left:649.7px;transform:scaleX(0.997);transform-origin:0 50%;">Undo</div>
<svg class="ic" viewBox="0 0 256 256" style="left:785.50px;top:218.00px;width:12px;height:12px;stroke:#1c1c1c;stroke-width:20;"><path d="M32,104H80V208H32a8,8,0,0,1-8-8V112A8,8,0,0,1,32,104Z"/><path d="M80,104l40-80a32,32,0,0,1,32,32V80h61.9a16,16,0,0,1,15.9,18l-12,96a16,16,0,0,1-15.9,14H80"/></svg>
<svg class="ic" viewBox="0 0 256 256" style="left:806.80px;top:218.30px;width:12px;height:12px;stroke:#1c1c1c;stroke-width:20;"><path d="M32,48H80V152H32a8,8,0,0,1-8-8V56A8,8,0,0,1,32,48Z"/><path d="M80,152l40,80a32,32,0,0,0,32-32V176h61.9a16,16,0,0,0,15.9-18l-12-96a16,16,0,0,0-15.9-14H80"/></svg>
<div class="abs" style="left:632.7px;top:251px;width:199.70px;height:41.80px;border-radius:10.5px 10.5px 2.5px 10.5px;background:#95a4fc"></div>
<div class="t k" style="letter-spacing:0.004px;top:266px;font-size:8.8px;color:#eceeff;left:644.7px;transform:scaleX(1.000);transform-origin:0 50%;">Show me the impact this would have had on</div>
<div class="t k" style="letter-spacing:0.012px;top:278px;font-size:8.8px;color:#eceeff;left:644.7px;transform:scaleX(1.000);transform-origin:0 50%;">the growth sales trends for Proseware</div>
<svg viewBox="0 0 844 600" style="left:0;top:0;width:844px;height:600px"><path d="M634.5 302.9 H819.3 A12.5 12.5 0 0 1 831.8 315.4 V425 A12.5 12.5 0 0 1 819.3 437.5 H624.2 A2.2 2.2 0 0 1 622 435.3 V315.4 A12.5 12.5 0 0 1 634.5 302.9 Z" fill="#f7f9fb" stroke="#95a4fc" stroke-width="1.35"/></svg>
<div class="t k" style="letter-spacing:0.010px;top:317.4px;font-size:8.8px;color:#1c1c1c;left:633.4px;transform:scaleX(1.000);transform-origin:0 50%;">This is what the projected trend would look like:</div>
<div class="t" style="letter-spacing:-0.220px;top:337.7px;font-size:7.6px;color:#a4a4a4;right:197.70000000000005px;transform:scaleX(0.840);transform-origin:100% 50%;">12%</div>
<div class="t" style="letter-spacing:-0.220px;top:357.5px;font-size:7.6px;color:#a4a4a4;right:197.70000000000005px;transform:scaleX(0.855);transform-origin:100% 50%;">6%</div>
<div class="t" style="letter-spacing:-0.220px;top:377.6px;font-size:7.6px;color:#a4a4a4;right:197.70000000000005px;transform:scaleX(0.883);transform-origin:100% 50%;">0%</div>
<div class="abs" style="left:656px;top:340.5px;width:164.40px;height:1.00px;background:#efeff0"></div>
<div class="abs" style="left:656px;top:360.8px;width:164.40px;height:1.00px;background:#efeff0"></div>
<div class="abs" style="left:656px;top:381.8px;width:164.40px;height:1.00px;background:#d4d4d6"></div>
<div class="t" style="letter-spacing:-0.220px;top:394.8px;font-size:7.6px;color:#a4a4a4;left:683.3px;transform:translateX(-50%) scaleX(0.979);">Q1-22</div>
<div class="t" style="letter-spacing:-0.220px;top:394.8px;font-size:7.6px;color:#a4a4a4;left:738px;transform:translateX(-50%) scaleX(0.979);">Q3-22</div>
<div class="t" style="letter-spacing:-0.220px;top:394.8px;font-size:7.6px;color:#a4a4a4;left:793px;transform:translateX(-50%) scaleX(0.979);">Q1-23</div>
<svg viewBox="0 0 844 600" style="left:0;top:0;width:844px;height:600px;pointer-events:none">
<path d="M664.2 361.1 L691 345.2 Q695.5 342.6 700.5 343.6 L768 359.8 Q772.3 360.8 776.5 359.6 L811.8 349.6" fill="none" stroke="#95a4fc" stroke-width="1.35" stroke-linejoin="round" stroke-linecap="round"/></svg>
<div class="abs" style="left:633px;top:413.0px;width:42.20px;height:16.10px;border-radius:4.5px;background:#ebedee"></div>
<svg class="ic" viewBox="0 0 256 256" style="left:636.95px;top:416.05px;width:9.5px;height:9.5px;stroke:#1c1c1c;stroke-width:20;"><polyline points="72 128 32 88 72 48"/><path d="M80,200h88a56,56,0,0,0,56-56h0a56,56,0,0,0-56-56H32"/></svg>
<div class="t k" style="letter-spacing:-0.220px;top:421.3px;font-size:8.8px;color:#1c1c1c;left:649.7px;transform:scaleX(0.997);transform-origin:0 50%;">Undo</div>
<div class="abs" style="left:679.9px;top:413.0px;width:49.50px;height:16.10px;border-radius:4.5px;background:#ebedee"></div>
<svg class="ic" viewBox="0 0 256 256" style="left:683.95px;top:416.05px;width:9.5px;height:9.5px;stroke:#1c1c1c;stroke-width:20;"><line x1="40" y1="72" x2="216" y2="72"/><line x1="40" y1="120" x2="112" y2="120"/><line x1="40" y1="168" x2="96" y2="168"/><path d="M176,104l12,32,32,12-32,12-12,32-12-32-32-12,32-12Z"/></svg>
<div class="t k" style="letter-spacing:-0.177px;top:421.3px;font-size:8.8px;color:#1c1c1c;left:696.4px;transform:scaleX(1.000);transform-origin:0 50%;">Explain</div>
<svg class="ic" viewBox="0 0 256 256" style="left:785.50px;top:415.30px;width:12px;height:12px;stroke:#1c1c1c;stroke-width:20;"><path d="M32,104H80V208H32a8,8,0,0,1-8-8V112A8,8,0,0,1,32,104Z"/><path d="M80,104l40-80a32,32,0,0,1,32,32V80h61.9a16,16,0,0,1,15.9,18l-12,96a16,16,0,0,1-15.9,14H80"/></svg>
<svg class="ic" viewBox="0 0 256 256" style="left:806.80px;top:415.60px;width:12px;height:12px;stroke:#1c1c1c;stroke-width:20;"><path d="M32,48H80V152H32a8,8,0,0,1-8-8V56A8,8,0,0,1,32,48Z"/><path d="M80,152l40,80a32,32,0,0,0,32-32V176h61.9a16,16,0,0,0,15.9-18l-12-96a16,16,0,0,0-15.9-14H80"/></svg>
<div class="abs" style="left:665.9px;top:454.8px;width:166.50px;height:23.10px;border-radius:5.5px;background:#f3f3f3"></div>
<div class="t k" style="letter-spacing:0.054px;top:466.5px;font-size:8.8px;color:#1c1c1c;left:675.2px;transform:scaleX(1.000);transform-origin:0 50%;">Add chart of Sales growth by Country</div>
<div class="abs" style="left:695.3px;top:487.8px;width:115.70px;height:23.10px;border-radius:5.5px;background:#f3f3f3"></div>
<div class="t k" style="letter-spacing:0.048px;top:499.3px;font-size:8.8px;color:#1c1c1c;left:704.6px;transform:scaleX(1.000);transform-origin:0 50%;">Project profit for Canada</div>
<svg class="ic" viewBox="0 0 256 256" style="left:817.75px;top:493.05px;width:12.5px;height:12.5px;stroke:#1c1c1c;stroke-width:19;"><polyline points="176 100 224 100 224 52"/><path d="M190.2,190.2a88,88,0,1,1,0-124.4L224,100"/></svg>
<svg viewBox="0 0 844 600" style="left:0;top:0;width:844px;height:600px"><rect x="622" y="520.7" width="209.9" height="67.2" rx="8" fill="#fff" stroke="#ebebeb" stroke-width="1.3"/></svg>
<div class="t k" style="letter-spacing:0.012px;top:535.9px;font-size:8.8px;color:#c6c6c6;left:633.4px;transform:scaleX(1.000);transform-origin:0 50%;">Ask a question or request, or type '/' for</div>
<div class="t k" style="letter-spacing:-0.075px;top:547.4px;font-size:8.8px;color:#c6c6c6;left:633.4px;transform:scaleX(1.000);transform-origin:0 50%;">suggestions</div>
<svg class="ic" viewBox="0 0 256 256" style="left:635.85px;top:565.05px;width:11.5px;height:11.5px;stroke:#1c1c1c;stroke-width:17;"><path d="M100,30l22,46,46,22-46,22-22,46-22-46-46-22,46-22Z"/><path d="M180,154l10,20,20,10-20,10-10,20-10-20-20-10,20-10Z"/></svg>
<svg class="ic" viewBox="0 0 256 256" style="left:656.50px;top:565.00px;width:12px;height:12px;stroke:#1c1c1c;stroke-width:15;"><path d="M160,80,76.7,164.7a16,16,0,0,0,22.6,22.6L198.6,86.6a32,32,0,0,0-45.2-45.2L54.1,142.1a48,48,0,0,0,67.9,67.9L204,128" fill="#1c1c1c" fill-opacity=".1"/></svg>
<svg class="ic" viewBox="0 0 256 256" style="left:806.15px;top:564.75px;width:12.5px;height:12.5px;stroke:#1c1c1c;stroke-width:19;"><path d="M40,40,224,128,40,216,72,128Z"/><line x1="72" y1="128" x2="136" y2="128"/></svg>
<div class="abs" style="left:0;top:0;width:844px;height:600px;border:1px solid #ebebeb;border-radius:8px;pointer-events:none"></div>
</div>
</body>
</html>
